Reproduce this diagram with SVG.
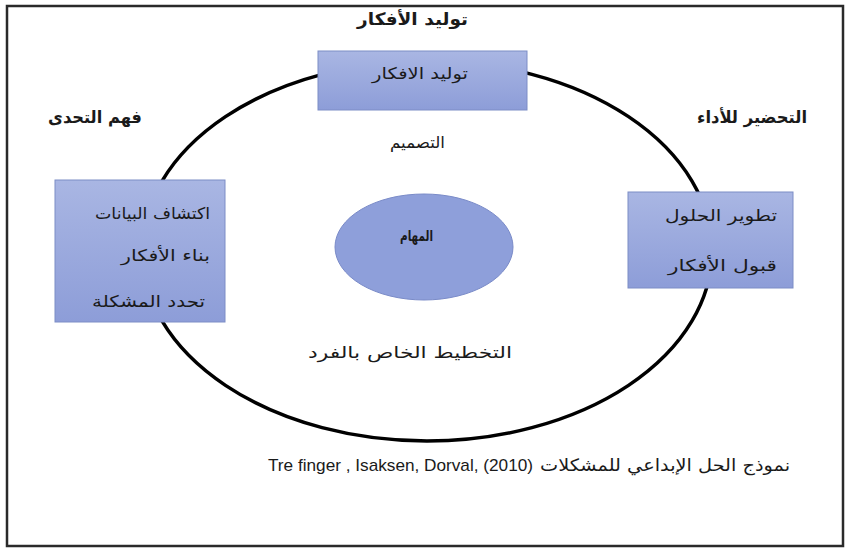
<svg xmlns="http://www.w3.org/2000/svg" width="845" height="549" viewBox="0 0 845 549">
<style>
.ar{font-family:"DejaVu Sans","Noto Sans",sans-serif;fill:#1a1a1a}
.head{font-size:17px;font-weight:bold}
.lab{font-size:16px}
.box{fill:url(#g);stroke:#7d8dc6;stroke-width:1}
</style>
<defs>
<linearGradient id="g" x1="0" y1="0" x2="0" y2="1">
<stop offset="0" stop-color="#a9b6e3"/>
<stop offset="1" stop-color="#8d9dd8"/>
</linearGradient>
</defs>
<rect x="7" y="6" width="836" height="540" fill="#fff" stroke="#2a2a2a" stroke-width="2.5"/>
<g id="connectors">
<ellipse cx="427" cy="251" rx="285" ry="190" fill="none" stroke="#000" stroke-width="3.5"/>
</g>
<g id="title-top"><text class="ar head" x="412.5" y="25" text-anchor="middle" textLength="111" lengthAdjust="spacingAndGlyphs">توليد الأفكار</text></g>
<g id="title-left"><text class="ar head" x="95" y="123" text-anchor="middle" textLength="94" lengthAdjust="spacingAndGlyphs">فهم التحدى</text></g>
<g id="title-right"><text class="ar head" x="752" y="123" text-anchor="middle" textLength="110" lengthAdjust="spacingAndGlyphs">التحضير للأداء</text></g>
<g id="box-top">
<rect class="box" x="318" y="51" width="209" height="59"/>
<text class="ar lab" x="420" y="79" text-anchor="middle" textLength="96" lengthAdjust="spacingAndGlyphs">توليد الافكار</text>
</g>
<g id="design"><text class="ar lab" x="417.5" y="148" text-anchor="middle" textLength="55" lengthAdjust="spacingAndGlyphs">التصميم</text></g>
<g id="box-left">
<rect class="box" x="55" y="180" width="170" height="142"/>
<text class="ar lab" x="152.5" y="219" text-anchor="middle" textLength="115" lengthAdjust="spacingAndGlyphs">اكتشاف البيانات</text>
<text class="ar lab" x="165.5" y="261" text-anchor="middle" textLength="89" lengthAdjust="spacingAndGlyphs">بناء الأفكار</text>
<text class="ar lab" x="148.5" y="307" text-anchor="middle" textLength="113" lengthAdjust="spacingAndGlyphs">تحدد المشكلة</text>
</g>
<g id="box-right">
<rect class="box" x="628" y="192" width="165" height="96"/>
<text class="ar lab" x="721" y="221" text-anchor="middle" textLength="112" lengthAdjust="spacingAndGlyphs">تطوير الحلول</text>
<text class="ar lab" x="722.5" y="271" text-anchor="middle" textLength="109" lengthAdjust="spacingAndGlyphs">قبول الأفكار</text>
</g>
<g id="tasks">
<ellipse cx="424" cy="247" rx="89" ry="53" fill="#8e9fda" stroke="#7a8bc8" stroke-width="1"/>
<text class="ar" font-size="15" x="416.5" y="241" text-anchor="middle" font-weight="bold" textLength="33" lengthAdjust="spacingAndGlyphs">المهام</text>
</g>
<g id="individual"><text class="ar lab" x="410" y="358" text-anchor="middle" textLength="204" lengthAdjust="spacingAndGlyphs">التخطيط الخاص بالفرد</text></g>
<g id="caption">
<text class="ar" font-size="17" x="665" y="471" text-anchor="middle" textLength="250" lengthAdjust="spacingAndGlyphs">نموذج الحل الإبداعي للمشكلات</text>
<text font-family="'Liberation Sans','DejaVu Sans',sans-serif" font-size="17" fill="#1a1a1a" x="268" y="471" textLength="265" lengthAdjust="spacingAndGlyphs">Tre finger , Isaksen, Dorval, (2010)</text>
</g>
</svg>
